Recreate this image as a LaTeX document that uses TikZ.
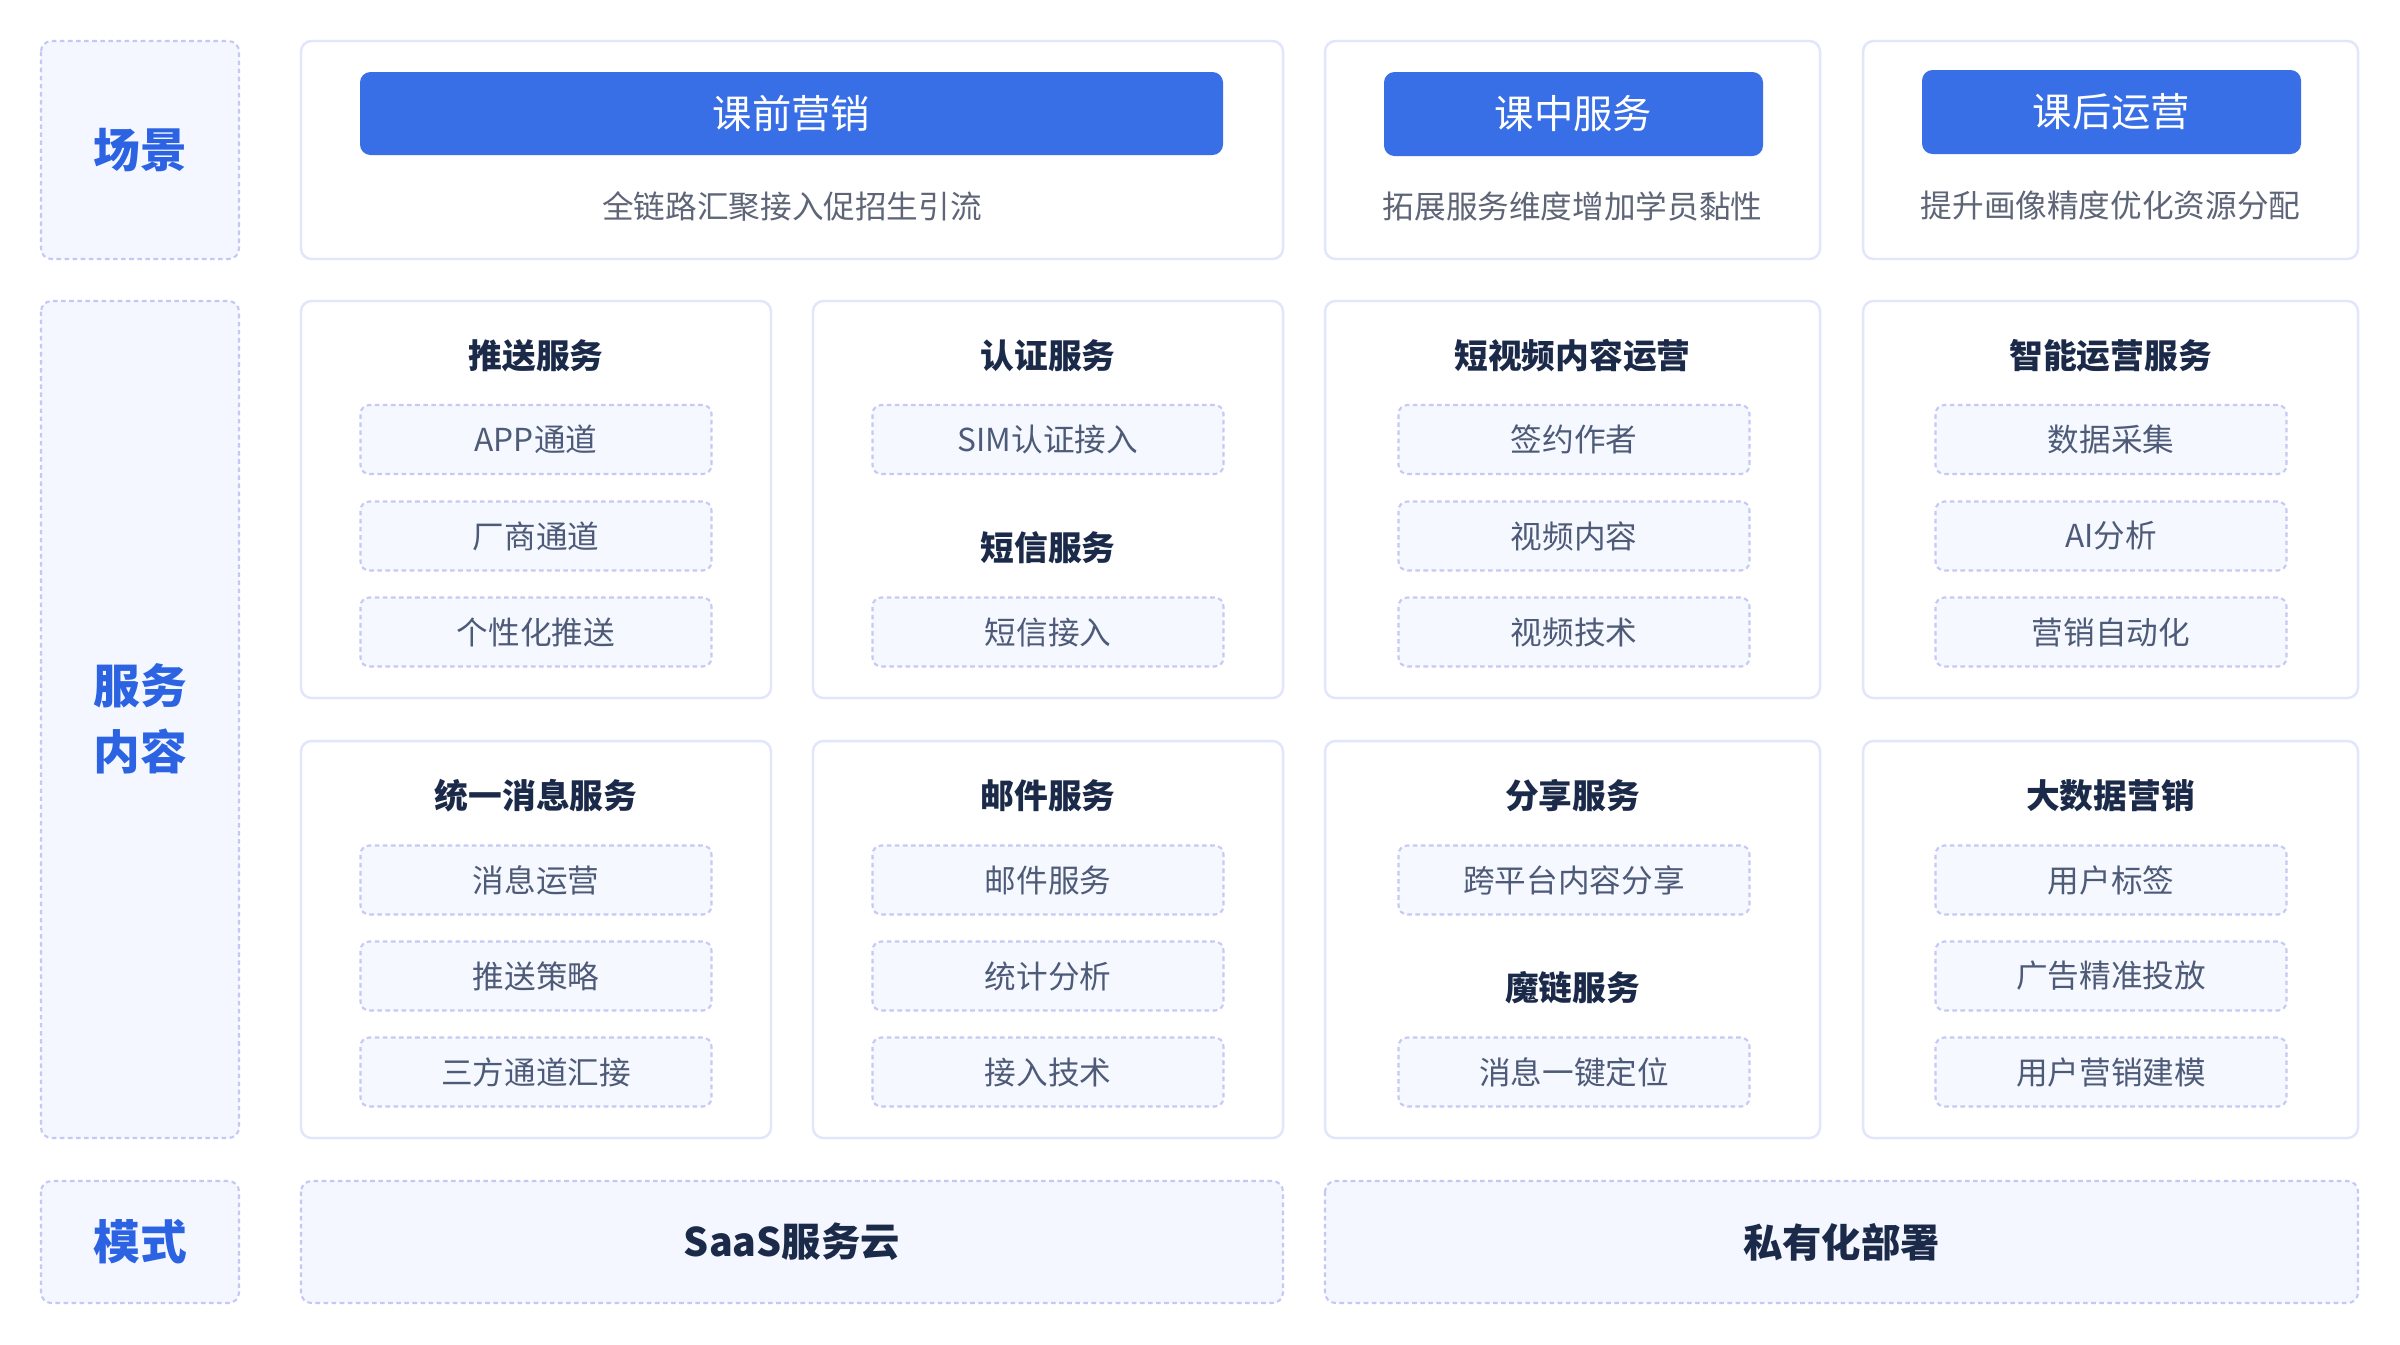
\documentclass[tikz,border=0pt]{standalone}
\usepackage{fontspec}
\setmainfont{Noto Sans CJK SC}

\definecolor{lblfill}{HTML}{F4F7FF}
\definecolor{lblline}{HTML}{C3C8F7}
\definecolor{lblblue}{HTML}{2C63E2}
\definecolor{cardline}{HTML}{E2E6FC}
\definecolor{btnblue}{HTML}{386EE6}
\definecolor{subgray}{HTML}{5D6577}
\definecolor{headnavy}{HTML}{1C2A4A}
\definecolor{itemfill}{HTML}{F5F8FF}
\definecolor{itemline}{HTML}{C5C9F5}
\definecolor{itemgray}{HTML}{4E5B78}

\tikzstyle{lbl} = [draw=lblline, fill=lblfill, line width=0.6pt, dash pattern=on 1.3pt off 1pt, rounded corners=3pt]
\tikzstyle{lbltext} = [text=lblblue, font=\fontsize{13.3}{18.7}\selectfont\bfseries, align=center]
\tikzstyle{card} = [draw=cardline, fill=white, line width=0.7pt, rounded corners=3pt]
\tikzstyle{btn} = [fill=btnblue, draw=none, rounded corners=3pt]
\tikzstyle{btntext} = [text=white, font=\fontsize{11.2}{13}\selectfont]
\tikzstyle{subtext} = [text=subgray, font=\fontsize{9}{11}\selectfont]
\tikzstyle{head} = [text=headnavy, font=\fontsize{9.6}{12}\selectfont\bfseries]
\tikzstyle{item} = [draw=itemline, fill=itemfill, line width=0.6pt, dash pattern=on 1.3pt off 1pt, rounded corners=2.5pt, minimum width=3.51cm, minimum height=0.69cm, inner sep=0pt, text=itemgray, font=\fontsize{9}{11}\selectfont]
\tikzstyle{modetext} = [text=headnavy, font=\fontsize{11.2}{13}\selectfont\bfseries]

\begin{document}
\begin{tikzpicture}[scale=1]

	\useasboundingbox[fill=white] (0,0) rectangle (24,-13.44);

	% left labels
	\draw[lbl] (0.41,-0.41) rectangle (2.39,-2.59);
	\draw[lbl] (0.41,-3.01) rectangle (2.39,-11.38);
	\draw[lbl] (0.41,-11.81) rectangle (2.39,-13.03);
	\node[lbltext] (scene) at (1.40,-1.50) {场景};
	\node[lbltext] (service) at (1.40,-7.19) {服务\\内容};
	\node[lbltext] (mode) at (1.40,-12.42) {模式};

	% scene cards
	\draw[card] (3.01,-0.41) rectangle (12.83,-2.59);
	\draw[card] (13.25,-0.41) rectangle (18.20,-2.59);
	\draw[card] (18.63,-0.41) rectangle (23.58,-2.59);

	\fill[btn] (3.60,-0.72) rectangle (12.23,-1.55);
	\fill[btn] (13.84,-0.72) rectangle (17.63,-1.56);
	\fill[btn] (19.22,-0.70) rectangle (23.01,-1.54);

	\node[btntext] (before) at (7.915,-1.135) {课前营销};
	\node[btntext] (during) at (15.735,-1.14) {课中服务};
	\node[btntext] (after) at (21.115,-1.12) {课后运营};

	\node[subtext] (beforeSub) at (7.92,-2.06) {全链路汇聚接入促招生引流};
	\node[subtext] (duringSub) at (15.725,-2.06) {拓展服务维度增加学员黏性};
	\node[subtext] (afterSub) at (21.105,-2.05) {提升画像精度优化资源分配};

	% service cards, row 1
	\draw[card] (3.01,-3.01) rectangle (7.71,-6.98);
	\draw[card] (8.13,-3.01) rectangle (12.83,-6.98);
	\draw[card] (13.25,-3.01) rectangle (18.20,-6.98);
	\draw[card] (18.63,-3.01) rectangle (23.58,-6.98);

	\node[head] (push) at (5.36,-3.56) {推送服务};
	\node[item] (push1) at (5.36,-4.395) {APP通道};
	\node[item] (push2) at (5.36,-5.36) {厂商通道};
	\node[item] (push3) at (5.36,-6.32) {个性化推送};

	\node[head] (auth) at (10.48,-3.56) {认证服务};
	\node[item] (auth1) at (10.48,-4.395) {SIM认证接入};
	\node[head] (sms) at (10.48,-5.48) {短信服务};
	\node[item] (sms1) at (10.48,-6.32) {短信接入};

	\node[head] (video) at (15.725,-3.56) {短视频内容运营};
	\node[item] (video1) at (15.74,-4.395) {签约作者};
	\node[item] (video2) at (15.74,-5.36) {视频内容};
	\node[item] (video3) at (15.74,-6.32) {视频技术};

	\node[head] (smart) at (21.105,-3.56) {智能运营服务};
	\node[item] (smart1) at (21.11,-4.395) {数据采集};
	\node[item] (smart2) at (21.11,-5.36) {AI分析};
	\node[item] (smart3) at (21.11,-6.32) {营销自动化};

	% service cards, row 2
	\draw[card] (3.01,-7.41) rectangle (7.71,-11.38);
	\draw[card] (8.13,-7.41) rectangle (12.83,-11.38);
	\draw[card] (13.25,-7.41) rectangle (18.20,-11.38);
	\draw[card] (18.63,-7.41) rectangle (23.58,-11.38);

	\node[head] (msg) at (5.36,-7.96) {统一消息服务};
	\node[item] (msg1) at (5.36,-8.80) {消息运营};
	\node[item] (msg2) at (5.36,-9.76) {推送策略};
	\node[item] (msg3) at (5.36,-10.72) {三方通道汇接};

	\node[head] (mail) at (10.48,-7.96) {邮件服务};
	\node[item] (mail1) at (10.48,-8.80) {邮件服务};
	\node[item] (mail2) at (10.48,-9.76) {统计分析};
	\node[item] (mail3) at (10.48,-10.72) {接入技术};

	\node[head] (share) at (15.725,-7.96) {分享服务};
	\node[item] (share1) at (15.74,-8.80) {跨平台内容分享};
	\node[head] (link) at (15.725,-9.88) {魔链服务};
	\node[item] (link1) at (15.74,-10.72) {消息一键定位};

	\node[head] (data) at (21.105,-7.96) {大数据营销};
	\node[item] (data1) at (21.11,-8.80) {用户标签};
	\node[item] (data2) at (21.11,-9.76) {广告精准投放};
	\node[item] (data3) at (21.11,-10.72) {用户营销建模};

	% modes
	\draw[lbl] (3.01,-11.81) rectangle (12.83,-13.03);
	\draw[lbl] (13.25,-11.81) rectangle (23.58,-13.03);
	\node[modetext] (saas) at (7.92,-12.42) {SaaS服务云};
	\node[modetext] (private) at (18.415,-12.42) {私有化部署};

\end{tikzpicture}
\end{document}
